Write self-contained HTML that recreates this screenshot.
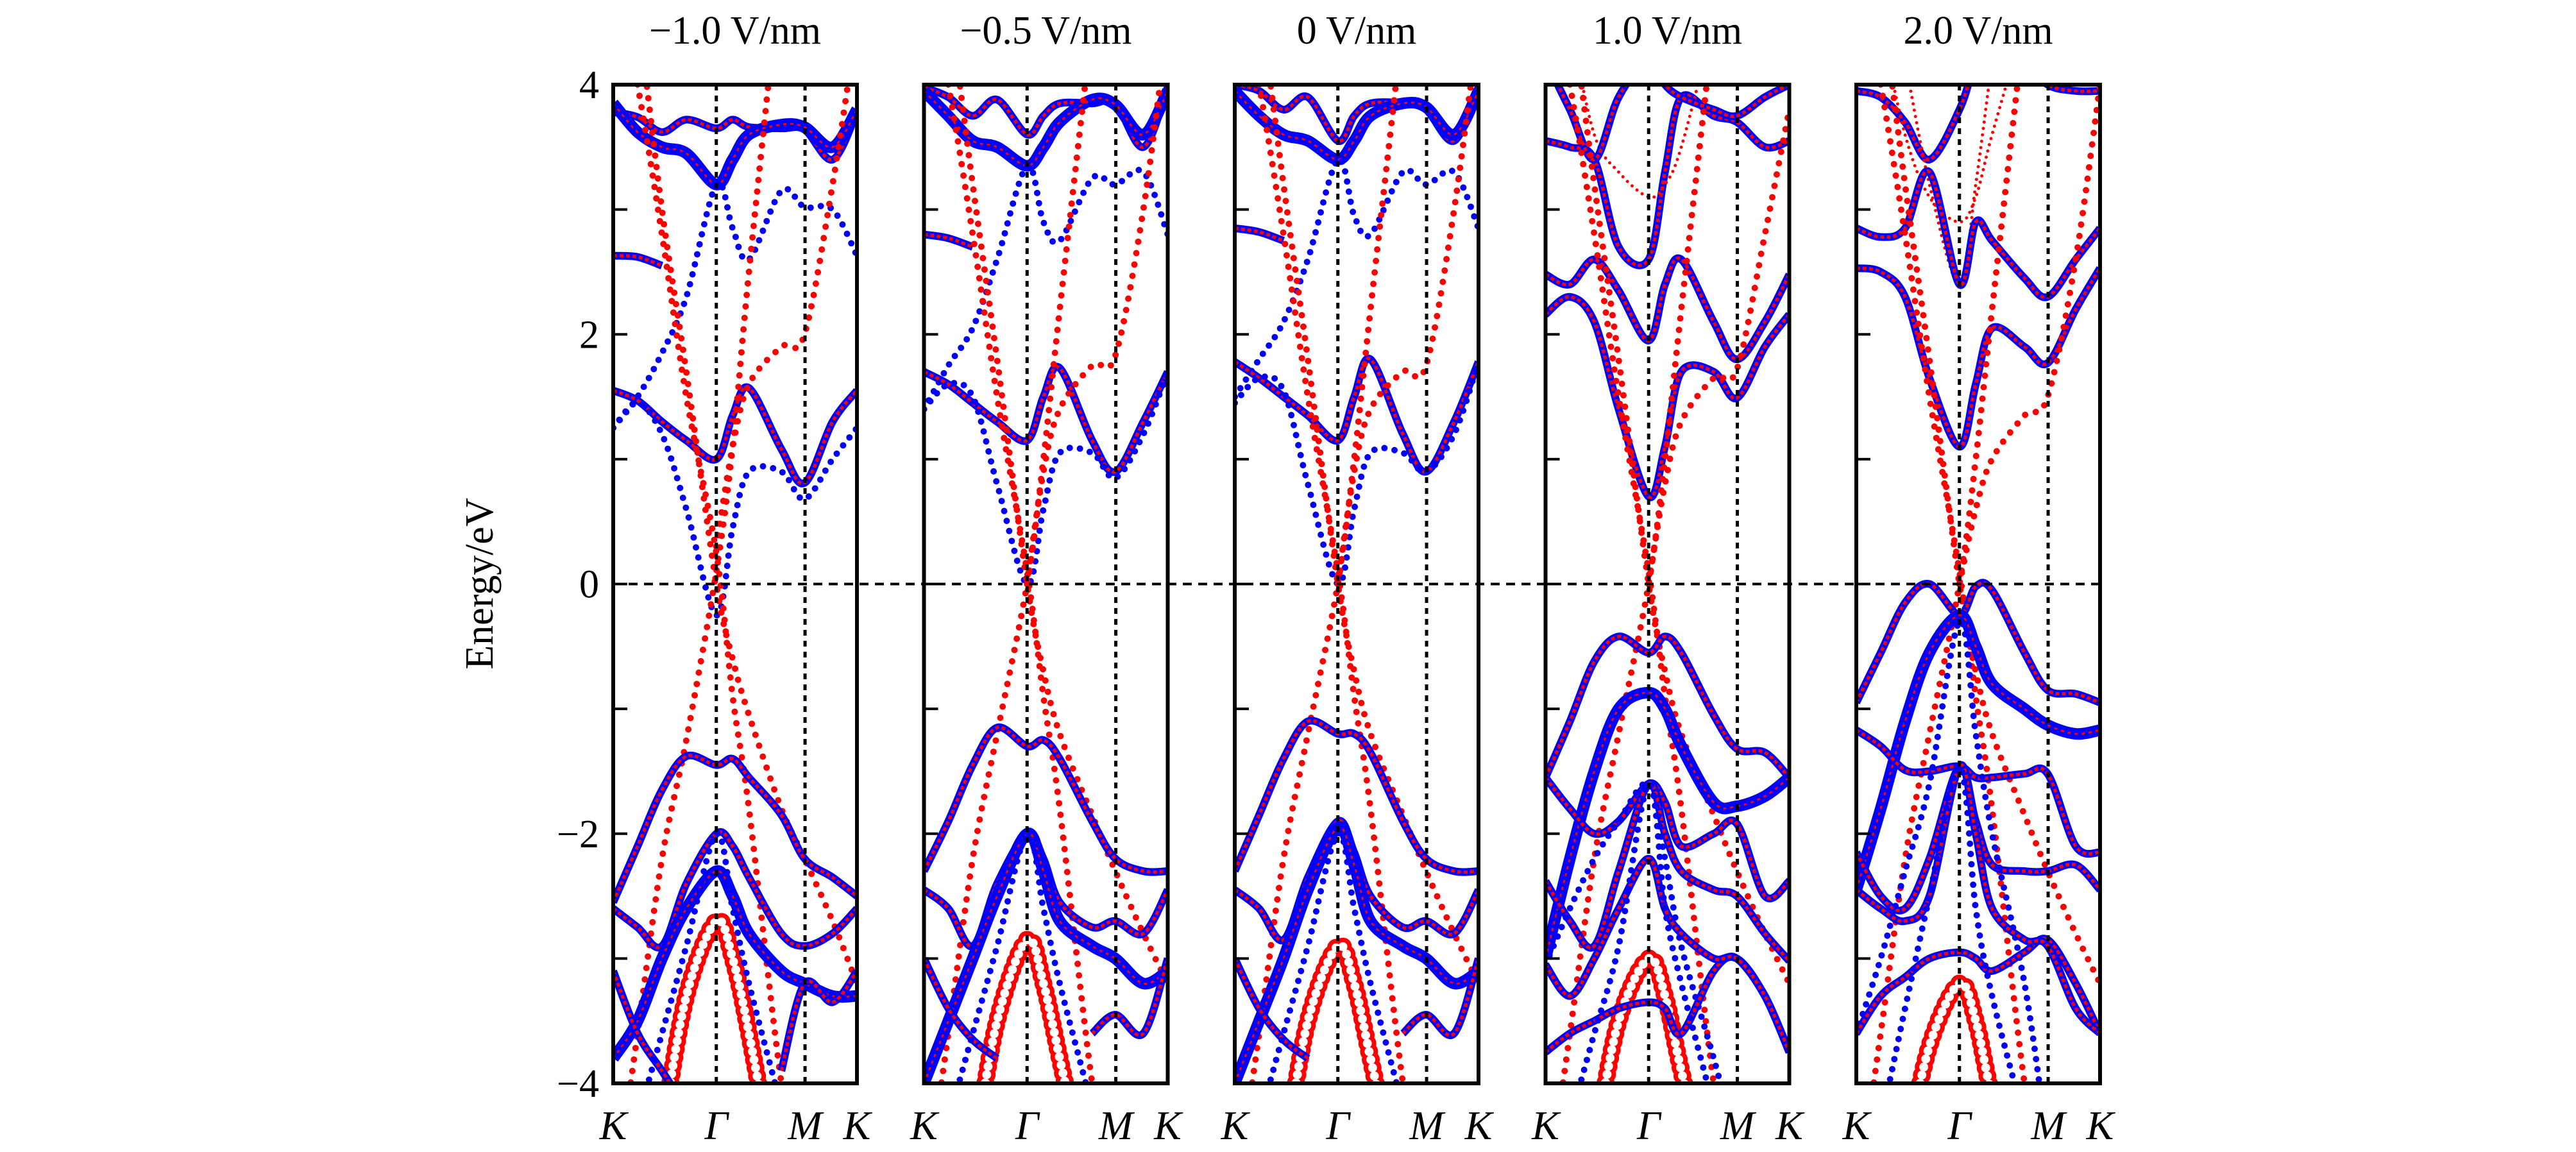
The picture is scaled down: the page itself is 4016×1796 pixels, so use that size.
<!DOCTYPE html>
<html><head><meta charset="utf-8"><style>
html,body{margin:0;padding:0;background:#fff;width:4016px;height:1796px;overflow:hidden;}
svg{display:block;font-family:"Liberation Serif",serif;}
</style></head><body>
<svg id="chart" width="4016" height="1796" viewBox="0 0 4016 1796" xmlns="http://www.w3.org/2000/svg">
<text x="0" y="0" transform="translate(768,910) rotate(-90)" text-anchor="middle" font-size="62">Energy/eV</text>
<g id="panels"></g>
</svg>
<script>
const kGrid=[0,0.1,0.2,0.3,0.423,0.49,0.557,0.69,0.785,0.9,1];
const kLabels=['K','Γ','M','K'];
const kLabelPos=[0,0.423,0.787,1];
const yTicks=[-4,-3,-2,-1,0,1,2,3,4];
const yTickLabels=['−4','','−2','','0','','2','','4'];
const panelTitles=['−1.0 V/nm','−0.5 V/nm','0 V/nm','1.0 V/nm','2.0 V/nm'];
const N=null;
const p1Types=['bw','B','bw','b','bw','b','r','r','r','r','bw','bw','B','ro','bw','b'];
const p1Bands=[
[3.78,3.74,3.62,3.72,3.65,3.72,3.66,3.65,3.64,3.4,3.78],
[3.85,3.62,3.5,3.45,3.2,3.4,3.6,3.68,3.66,3.5,3.8],
[2.63,2.62,2.55,N,N,N,N,N,N,N,N],
[1.25,1.5,1.85,2.3,3.2,2.85,2.6,3.15,3.02,3.0,2.63],
[1.55,1.47,1.3,1.15,1.0,1.35,1.57,1.08,0.81,1.3,1.55],
[1.25,1.45,1.2,0.6,-0.25,0.45,0.9,0.9,0.68,1.0,1.25],
[N,N,N,N,0.3,1.1,1.6,1.9,2.0,3.2,4.5],
[6,4.6,3.0,1.7,0.0,-0.6,-1.05,-1.8,-2.2,-2.7,-3.2],
[-5,-3.6,-2.2,-1.25,0.1,1.1,2.5,5,N,N,N],
[5,4.0,2.8,1.5,0.25,-0.9,-1.8,-4.0,-5,N,N],
[-2.55,-2.1,-1.65,-1.38,-1.45,-1.4,-1.55,-1.85,-2.2,-2.35,-2.5],
[-2.6,-2.75,-2.9,-2.4,-2.0,-2.1,-2.35,-2.8,-2.9,-2.8,-2.6],
[-3.8,-3.5,-3.0,-2.6,-2.3,-2.5,-2.8,-3.1,-3.2,-3.3,-3.3],
[-6,-5.5,-4.4,-3.3,-2.7,-3.0,-3.6,-5,N,N,N],
[-3.1,-3.6,-3.9,-4.2,N,N,N,-3.9,-3.2,-3.35,-3.1],
[-5,-4.3,-3.6,-2.9,-2.0,-2.6,-3.2,-4.2,-5,N,N]];
const p2Types=p1Types;
const p2Bands=[
[3.98,3.9,3.75,3.88,3.6,3.75,3.85,3.85,3.85,3.5,3.98],
[3.95,3.75,3.55,3.5,3.35,3.5,3.7,3.88,3.84,3.6,3.95],
[2.8,2.77,2.7,N,N,N,N,N,N,N,N],
[1.4,1.75,2.05,2.6,3.35,2.9,2.75,3.25,3.2,3.3,2.8],
[1.7,1.6,1.45,1.3,1.15,1.5,1.73,1.15,0.9,1.3,1.7],
[1.4,1.6,1.5,0.8,0.0,0.6,1.05,1.05,0.85,1.2,1.7],
[N,N,N,N,0.0,0.9,1.4,1.75,1.83,3.0,4.5],
[6,4.7,3.2,1.8,0.0,-0.7,-1.2,-1.85,-2.3,-2.8,-3.2],
[-5,-3.6,-2.2,-1.2,0.0,1.0,2.2,4.5,N,N,N],
[5,4.0,2.8,1.5,0.1,-0.9,-1.8,-4.0,-5,N,N],
[-2.3,-1.9,-1.45,-1.15,-1.3,-1.25,-1.4,-1.9,-2.2,-2.3,-2.3],
[-2.45,-2.6,-2.9,-2.4,-2.0,-2.2,-2.55,-2.75,-2.7,-2.8,-2.45],
[-4.0,-3.5,-3.0,-2.5,-2.0,-2.3,-2.7,-2.9,-3.0,-3.2,-3.1],
[-6,-5.5,-4.6,-3.5,-2.85,-3.2,-3.8,-5,N,N,N],
[-3.0,-3.4,-3.65,-3.8,N,N,N,-3.6,-3.45,-3.6,-3.0],
[-5,-4.3,-3.6,-2.9,-2.0,-2.6,-3.2,-4.2,-5,N,N]];
const p3Types=p1Types;
const p3Bands=[
[4.0,3.95,3.8,3.9,3.55,3.75,3.85,3.85,3.8,3.55,3.98],
[3.95,3.75,3.6,3.55,3.4,3.55,3.75,3.85,3.82,3.6,3.95],
[2.85,2.82,2.75,N,N,N,N,N,N,N,N],
[1.5,1.8,2.1,2.6,3.4,2.95,2.8,3.3,3.2,3.3,2.85],
[1.78,1.65,1.5,1.35,1.15,1.5,1.8,1.2,0.9,1.3,1.78],
[1.45,1.65,1.55,0.8,0.0,0.6,1.05,1.05,0.9,1.2,1.78],
[N,N,N,N,0.0,0.9,1.4,1.7,1.75,3.0,4.5],
[6,4.7,3.2,1.8,0.0,-0.7,-1.2,-1.85,-2.3,-2.8,-3.2],
[-5,-3.6,-2.2,-1.2,0.0,1.0,2.2,4.5,N,N,N],
[5,4.0,2.8,1.5,0.1,-0.9,-1.8,-4.0,-5,N,N],
[-2.3,-1.85,-1.4,-1.1,-1.2,-1.2,-1.35,-1.9,-2.2,-2.3,-2.3],
[-2.45,-2.6,-2.85,-2.35,-1.9,-2.15,-2.5,-2.75,-2.7,-2.8,-2.45],
[-4.0,-3.5,-3.0,-2.45,-1.95,-2.25,-2.7,-2.9,-3.0,-3.2,-3.1],
[-6,-5.5,-4.6,-3.5,-2.9,-3.2,-3.8,-5,N,N,N],
[-3.0,-3.4,-3.65,-3.8,N,N,N,-3.6,-3.45,-3.6,-3.0],
[-5,-4.3,-3.6,-2.9,-2.0,-2.6,-3.2,-4.2,-5,N,N]];
const p4Types=['bw','rs','bw','bw','bw','r','r','r','r','bw','B','bw','bw','b','ro','bw','bw','b'];
const p4Bands=[
[3.55,3.5,3.4,2.7,2.6,3.3,3.9,3.75,3.7,3.5,3.55],
[N,4.5,3.6,3.3,3.1,3.2,3.5,4.5,N,N,N],
[2.48,2.4,2.6,2.35,1.95,2.4,2.6,2.1,1.8,2.1,2.48],
[2.16,2.3,2.1,1.4,0.7,1.1,1.7,1.7,1.49,1.9,2.16],
[4.2,3.8,3.4,3.9,4.2,4.0,3.9,3.8,3.75,3.9,4.0],
[N,N,N,N,0.0,0.8,1.3,1.65,1.72,2.8,3.8],
[6,4.7,3.2,1.8,0.0,-0.7,-1.2,-1.85,-2.3,-2.8,-3.2],
[-5,-3.6,-2.2,-1.2,0.0,1.0,2.2,4.5,N,N,N],
[5,4.0,2.8,1.5,0.1,-0.9,-1.8,-4.0,-5,N,N],
[-1.55,-1.1,-0.62,-0.42,-0.55,-0.42,-0.55,-1.05,-1.32,-1.35,-1.55],
[-3.0,-2.2,-1.5,-1.0,-0.87,-1.0,-1.3,-1.75,-1.78,-1.7,-1.55],
[-1.55,-1.8,-2.0,-1.9,-1.6,-1.75,-2.1,-2.0,-1.92,-2.5,-2.38],
[-2.38,-2.7,-2.9,-2.3,-1.6,-2.0,-2.3,-2.45,-2.5,-2.8,-3.02],
[-3.05,-2.6,-2.2,-1.9,-1.6,-2.2,-2.9,-3.8,-4.5,N,N],
[-6,-5.5,-4.5,-3.5,-3.0,-3.3,-3.9,-5,N,N,N],
[-3.75,-3.6,-3.5,-3.4,-3.35,-3.4,-3.6,-3.1,-3.0,-3.3,-3.75],
[-3.05,-3.3,-3.0,-2.6,-2.2,-2.6,-2.8,-3.0,-3.0,-3.3,-3.75],
[-5,-4.3,-3.6,-2.9,-1.6,-2.6,-3.2,-4.2,-5,N,N]];
const p5Types=['bw','rs','rs','bw','bw','r','r','r','r','bw','B','bw','bw','b','ro','bw','bw','b'];
const p5Bands=[
[3.95,3.9,3.7,3.4,3.8,4.2,4.5,4.2,4.0,3.95,3.95],
[N,4.5,3.6,3.1,2.9,3.1,3.6,4.5,N,N,N],
[N,N,4.2,3.2,2.4,3.2,4.2,N,N,N,N],
[2.85,2.78,2.85,3.3,2.4,2.9,2.75,2.45,2.3,2.6,2.85],
[2.53,2.5,2.3,1.65,1.1,1.6,2.05,1.9,1.77,2.2,2.53],
[N,N,N,N,0.0,0.6,1.0,1.35,1.5,2.6,4.0],
[6,4.7,3.2,1.8,0.0,-0.7,-1.2,-1.85,-2.3,-2.8,-3.2],
[-5,-3.6,-2.2,-1.2,0.0,1.0,2.2,4.5,N,N,N],
[5,4.0,2.8,1.5,0.1,-0.9,-1.8,-4.0,-5,N,N],
[-0.95,-0.55,-0.15,0.0,-0.25,-0.02,-0.05,-0.55,-0.85,-0.88,-0.95],
[-2.45,-1.8,-1.1,-0.55,-0.25,-0.5,-0.8,-1.0,-1.13,-1.2,-1.17],
[-1.17,-1.3,-1.49,-1.5,-1.46,-1.55,-1.55,-1.52,-1.52,-2.1,-2.15],
[-2.15,-2.5,-2.6,-2.2,-1.46,-1.9,-2.25,-2.3,-2.3,-2.25,-2.45],
[-3.6,-3.0,-2.3,-1.6,-0.3,-1.2,-2.0,-3.2,-4.5,N,N],
[-6,-5.5,-4.6,-3.7,-3.2,-3.5,-4.1,-5,N,N,N],
[-3.6,-3.3,-3.15,-3.0,-2.95,-3.0,-3.1,-2.95,-2.85,-3.2,-3.6],
[-2.45,-2.6,-2.7,-2.5,-1.46,-2.0,-2.6,-2.85,-2.9,-3.4,-3.6],
[-5,-4.3,-3.4,-2.5,-1.46,-2.6,-3.3,-4.3,-5,N,N]];
const allTypes=[p1Types,p2Types,p3Types,p4Types,p5Types];
const allBands=[p1Bands,p2Bands,p3Bands,p4Bands,p5Bands];

const NS='http://www.w3.org/2000/svg';
const PX0=956, PSTEP=484.5, PW=380, TOP=132, BOT=1689, EMIN=-4, EMAX=4;
function yOf(e){return BOT-(e-EMIN)/(EMAX-EMIN)*(BOT-TOP);}
function xOf(i,f){return PX0+i*PSTEP+f*PW;}
function mk(tag,attrs,parent){const el=document.createElementNS(NS,tag);for(const k in attrs)el.setAttribute(k,attrs[k]);parent.appendChild(el);return el;}
function pathFor(i,es){
  let d='';let run=[];
  const flush=()=>{
    if(run.length>1){
      d+='M'+run[0][0]+','+run[0][1];
      for(let j=0;j<run.length-1;j++){
        const p0=run[Math.max(j-1,0)],p1=run[j],p2=run[j+1],p3=run[Math.min(j+2,run.length-1)];
        const c1=[p1[0]+(p2[0]-p0[0])/6,p1[1]+(p2[1]-p0[1])/6];
        const c2=[p2[0]-(p3[0]-p1[0])/6,p2[1]-(p3[1]-p1[1])/6];
        d+='C'+c1.join(',')+' '+c2.join(',')+' '+p2.join(',');
      }
    }
    run=[];
  };
  es.forEach((e,j)=>{if(e===null)flush();else run.push([xOf(i,kGrid[j]),yOf(e)]);});
  flush();
  return d;
}
const styles={
  bw:[{stroke:'#0000ff','stroke-width':12},{stroke:'#ff0000','stroke-width':5,'stroke-dasharray':'6 4'}],
  B:[{stroke:'#0000ff','stroke-width':18},{stroke:'#ff0000','stroke-width':3,'stroke-dasharray':'5 6'}],
  b:[{stroke:'#0000ff','stroke-width':10,'stroke-dasharray':'0 16','stroke-linecap':'round'}],
  r:[{stroke:'#ff0000','stroke-width':10,'stroke-dasharray':'0 18','stroke-linecap':'round'}],
  rs:[{stroke:'#ff0000','stroke-width':5,'stroke-dasharray':'0 10','stroke-linecap':'round'}],
  ro:[{stroke:'#ff0000','stroke-width':28,'stroke-dasharray':'0 13','stroke-linecap':'round'},{stroke:'#ffffff','stroke-width':14,'stroke-dasharray':'0 13','stroke-linecap':'round'}]
};
const root=document.getElementById('panels');
const defs=mk('defs',{},root);
panelTitles.forEach((title,i)=>{
  const g=mk('g',{},root);
  
  
  const cp=mk('clipPath',{id:'clip'+i},defs);
  mk('rect',{x:xOf(i,0),y:TOP,width:PW,height:BOT-TOP},cp);
  const t=mk('text',{x:xOf(i,0.5),y:68,'text-anchor':'middle','font-size':62},g);
  t.textContent=title;
  
  
  const bg=mk('g',{'clip-path':'url(#clip'+i+')',fill:'none','stroke-linejoin':'round'},g);
  
  
  allBands[i].forEach((es,b)=>{
    const d=pathFor(i,es);
    styles[allTypes[i][b]].forEach(st=>{
      const p=mk('path',Object.assign({d:d},st),bg);
      
      
    });
  });
  [0.423,0.787].forEach(f=>{
    const l=mk('line',{x1:xOf(i,f),x2:xOf(i,f),y1:TOP,y2:BOT,stroke:'#000','stroke-width':5,'stroke-dasharray':'9 8'},g);
    
    
  });
  yTicks.forEach((v,j)=>{
    const tk=mk('line',{x1:xOf(i,0),x2:xOf(i,0)+22,y1:yOf(v),y2:yOf(v),stroke:'#000','stroke-width':4},g);
    
    
    if(i===0&&yTickLabels[j]){
      const tl=mk('text',{x:xOf(i,0)-22,y:yOf(v)+21,'text-anchor':'end','font-size':62},g);
      tl.textContent=yTickLabels[j];
      
      
    }
  });
  const fr=mk('rect',{x:xOf(i,0),y:TOP,width:PW,height:BOT-TOP,fill:'none',stroke:'#000','stroke-width':6},g);
  
  
  kLabels.forEach((lab,j)=>{
    const kt=mk('text',{x:xOf(i,kLabelPos[j]),y:1776,'text-anchor':'middle','font-size':64,'font-style':'italic'},g);
    kt.textContent=lab;
    
    
  });
});
const zl=mk('line',{x1:xOf(0,0),x2:xOf(4,1),y1:yOf(0),y2:yOf(0),stroke:'#000','stroke-width':4,'stroke-dasharray':'14 10'},root);


</script>
</body></html>
